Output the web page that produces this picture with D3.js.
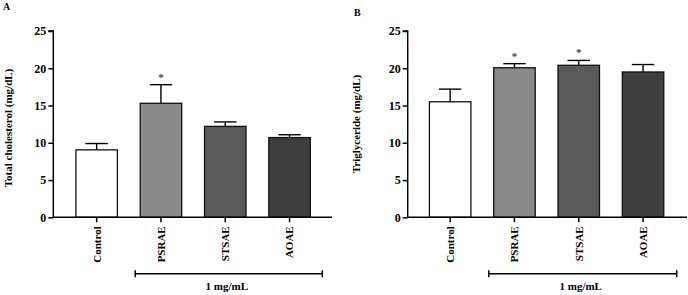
<!DOCTYPE html>
<html><head><meta charset="utf-8">
<script src="https://cdn.jsdelivr.net/npm/d3@7"></script>
<style>
html,body{margin:0;padding:0;background:#fff;}
svg{display:block;font-family:"Liberation Serif","Times New Roman",serif;font-weight:bold;}
</style></head>
<body>
<svg id="c" width="688" height="295"></svg>
<script>
const categories = ["Control", "PSRAE", "STSAE", "AOAE"];
const barColors = ["#ffffff", "#8a8a8a", "#5a5a5a", "#3e3e3e"];
const cholMean = [9.05, 15.3, 12.2, 10.7];
const cholErr = [0.85, 2.5, 0.6, 0.38];
const cholSig = [false, true, false, false];
const tgMean = [15.5, 20.07, 20.4, 19.5];
const tgErr = [1.7, 0.55, 0.65, 1.0];
const tgSig = [false, true, true, false];
const yTicks = [0, 5, 10, 15, 20, 25];
const bracketLabel = "1 mg/mL";

const svg = d3.select("#c");

function panel(opt) {
  const g = svg.append("g");
  const y = d3.scaleLinear().domain([0, 25]).range([217.3, 31]);
  const x = d3.scaleBand().domain(categories).range(opt.range)
    .paddingInner(0.355).paddingOuter(0.1775);
  const bw = x.bandwidth();

  const data = categories.map((c, i) => ({c, v: opt.mean[i], e: opt.err[i], s: opt.sig[i], col: barColors[i]}));
  g.selectAll("line.err").data(data).join("line")
    .attr("x1", d => x(d.c) + bw / 2).attr("x2", d => x(d.c) + bw / 2)
    .attr("y1", d => y(d.v)).attr("y2", d => y(d.v + d.e))
    .attr("stroke", "#000").attr("stroke-width", 1.4);
  g.selectAll("line.cap").data(data).join("line")
    .attr("x1", d => x(d.c) + bw / 2 - bw * 0.27).attr("x2", d => x(d.c) + bw / 2 + bw * 0.27)
    .attr("y1", d => y(d.v + d.e)).attr("y2", d => y(d.v + d.e))
    .attr("stroke", "#000").attr("stroke-width", 1.4);
  g.selectAll("rect").data(data).join("rect")
    .attr("x", d => x(d.c)).attr("width", bw)
    .attr("y", d => y(d.v)).attr("height", d => y(0) - y(d.v))
    .attr("fill", d => d.col).attr("stroke", "#111").attr("stroke-width", 1.3);

  g.selectAll("text.sig").data(data.filter(d => d.s)).join("text")
    .attr("x", d => x(d.c) + bw / 2).attr("y", d => y(d.v + d.e) - 4)
    .attr("text-anchor", "middle").attr("font-size", 11).attr("fill", "#444").text("*");

  const ya = d3.axisLeft(y).tickValues(yTicks).tickSize(5).tickPadding(2);
  const yg = g.append("g").attr("transform", `translate(${opt.axisX},0)`).call(ya);
  yg.select(".domain").attr("stroke-width", 1.5).attr("d", `M-5,${y(25)}H0V${y(0)}`);
  yg.selectAll(".tick line").attr("stroke-width", 1.5);
  yg.selectAll(".tick text").attr("font-size", 12).attr("font-family", "Liberation Serif").attr("font-weight", "bold").attr("fill", "#000");

  const xa = d3.axisBottom(x).tickSize(5).tickPadding(3);
  const xg = g.append("g").attr("transform", `translate(0,${y(0)})`).call(xa);
  xg.select(".domain").attr("stroke-width", 1.5).attr("d", `M${opt.axisX},0H${opt.axisEnd}`);
  xg.selectAll(".tick line").attr("stroke-width", 1.5);
  xg.selectAll(".tick text")
    .attr("font-size", 11).attr("font-family", "Liberation Serif").attr("font-weight", "bold").attr("fill", "#000")
    .attr("transform", "rotate(-90)")
    .attr("text-anchor", "end").attr("dy", "0.35em")
    .attr("x", -9).attr("y", 0);

  g.append("text")
    .attr("transform", `translate(${opt.labelX},${opt.labelY}) rotate(-90)`)
    .attr("text-anchor", "middle").attr("font-size", 11).attr("dy", "0.35em")
    .text(opt.ylabel);

  g.append("text").attr("x", opt.letterX).attr("y", opt.letterY)
    .attr("font-size", 10).text(opt.letter);

  const bx0 = x(categories[1]) - bw * 0.12, bx1 = opt.bracketEnd;
  const by = 273.7;
  g.append("path")
    .attr("d", `M${bx0},${by - 3.5}V${by + 3.5}M${bx0},${by}H${bx1}M${bx1},${by - 3.5}V${by + 3.5}`)
    .attr("stroke", "#000").attr("stroke-width", 1.5).attr("fill", "none");
  g.append("text").attr("x", (bx0 + bx1) / 2 - 2).attr("y", 290)
    .attr("text-anchor", "middle").attr("font-size", 11).text(bracketLabel);
}

panel({range: [64.5, 321.7], axisX: 53.3, axisEnd: 332, mean: cholMean, err: cholErr, sig: cholSig,
  ylabel: "Total cholesterol (mg/dL)", labelX: 8, labelY: 128, letter: "A", letterX: 3, letterY: 9.5,
  bracketEnd: 322.3});
panel({range: [418, 675.2], axisX: 407.7, axisEnd: 687, mean: tgMean, err: tgErr, sig: tgSig,
  ylabel: "Triglyceride (mg/dL)", labelX: 356, labelY: 124, letter: "B", letterX: 354, letterY: 15.7,
  bracketEnd: 676.7});
</script>
</body></html>
